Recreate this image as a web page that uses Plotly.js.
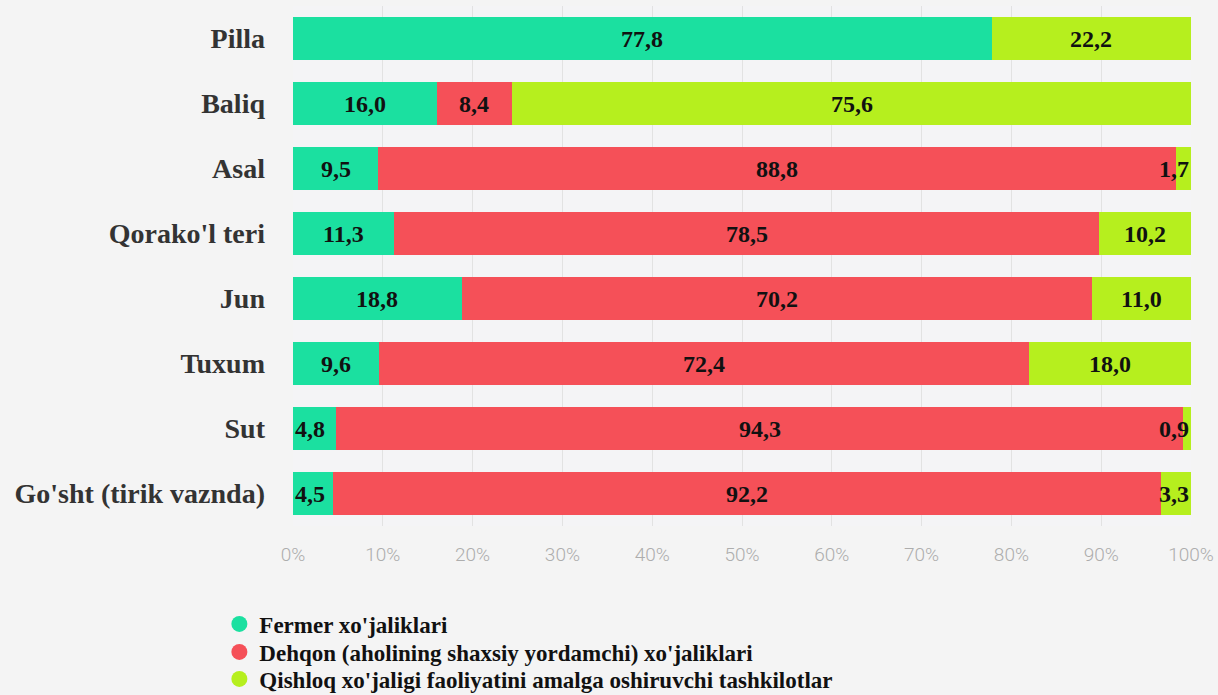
<!DOCTYPE html>
<html>
<head>
<meta charset="utf-8">
<script src="https://cdn.plot.ly/plotly-3.0.1.min.js"></script>
<style>html,body{margin:0;padding:0;background:#f4f4f4;}#chart{width:1218px;height:695px;}</style>
</head>
<body>
<div id="chart"></div>
<script>
const categories = ["Pilla", "Baliq", "Asal", "Qorako'l teri", "Jun", "Tuxum", "Sut", "Go'sht (tirik vaznda)"];
const seriesNames = ["Fermer xo'jaliklari", "Dehqon (aholining shaxsiy yordamchi) xo'jaliklari", "Qishloq xo'jaligi faoliyatini amalga oshiruvchi tashkilotlar"];
const fermer = [77.8, 16.0, 9.5, 11.3, 18.8, 9.6, 4.8, 4.5];
const dehqon = [0, 8.4, 88.8, 78.5, 70.2, 72.4, 94.3, 92.2];
const tashkilot = [22.2, 75.6, 1.7, 10.2, 11.0, 18.0, 0.9, 3.3];
const tickVals = [0, 10, 20, 30, 40, 50, 60, 70, 80, 90, 100];
const tickText = ["0%", "10%", "20%", "30%", "40%", "50%", "60%", "70%", "80%", "90%", "100%"];

const colors = ["#1be0a0", "#f55058", "#b6ef1e"];
const allSeries = [fermer, dehqon, tashkilot];

const traces = [];
allSeries.forEach((vals, i) => {
  traces.push({
    type: 'bar', orientation: 'h', y: categories, x: vals,
    name: seriesNames[i], marker: {color: colors[i], line: {width: 0}},
    showlegend: false, hoverinfo: 'x+y'
  });
});
// legend entries with circle symbols
allSeries.forEach((vals, i) => {
  traces.push({
    type: 'scatter', mode: 'markers', x: [null], y: [null],
    name: seriesNames[i], marker: {color: colors[i], size: 16, symbol: 'circle'},
    showlegend: true, legend: i === 0 ? 'legend' : 'legend' + (i + 1)
  });
});

// value labels, derived from the data arrays
const annotations = [];
categories.forEach((c, j) => {
  let start = 0;
  allSeries.forEach((vals, i) => {
    const v = vals[j];
    if (v > 0) {
      let x = start + v / 2, anchor = 'center';
      if (v < 5 && i === 0) { x = start; anchor = 'left'; }
      else if (v < 5 && i === allSeries.length - 1) { x = start + v; anchor = 'right'; }
      annotations.push({
        x: x, y: c, xref: 'x', yref: 'y', xanchor: anchor, yanchor: 'middle',
        text: v.toFixed(1).replace('.', ','), showarrow: false,
        font: {family: 'Liberation Serif, Times New Roman, serif', size: 24, weight: 'bold', color: '#111'}
      });
    }
    start += v;
  });
});

const legendFont = {family: 'Liberation Serif, Times New Roman, serif', size: 23, weight: 'bold', color: '#111'};
function leg(y) {
  return {x: -0.082, xanchor: 'left', y: y, yanchor: 'middle', yref: 'container', orientation: 'v',
    font: legendFont, bgcolor: 'rgba(0,0,0,0)', borderwidth: 0};
}

const layout = {
  width: 1218, height: 695,
  margin: {l: 293, r: 27, t: 6, b: 169, pad: 0, autoexpand: false},
  paper_bgcolor: '#f4f4f4', plot_bgcolor: '#f4f4f6',
  barmode: 'stack', bargap: 0.35,
  xaxis: {
    range: [0, 100], tickmode: 'array', tickvals: tickVals, ticktext: tickText,
    showgrid: true, gridcolor: '#e2e2e2', gridwidth: 1, zeroline: false,
    showline: false, ticks: '', ticklabelstandoff: 15,
    tickfont: {family: 'Roboto, sans-serif', size: 19, weight: 300, color: '#adadad'},
    fixedrange: true
  },
  yaxis: {
    type: 'category', autorange: 'reversed', showgrid: false, zeroline: false,
    ticks: '', ticklabelstandoff: 27,
    tickfont: {family: 'Liberation Serif, Times New Roman, serif', size: 28, weight: 'bold', color: '#333'},
    fixedrange: true
  },
  legend: leg(0.1022),
  legend2: leg(0.0619),
  legend3: leg(0.0230),
  annotations: annotations,
  showlegend: true
};

Plotly.newPlot('chart', traces, layout, {displayModeBar: false, staticPlot: true});
</script>
</body>
</html>
